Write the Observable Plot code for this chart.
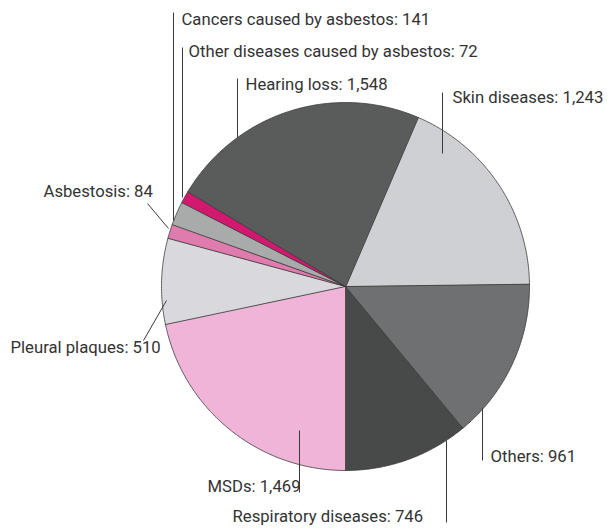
<!DOCTYPE html>
<html><head><meta charset="utf-8">
<script src="https://cdn.jsdelivr.net/npm/d3@7"></script>
<script src="https://cdn.jsdelivr.net/npm/@observablehq/plot@0.6"></script>
<style>body{margin:0;background:#fff}</style>
</head><body><div id="chart"></div>
<script>
// Data (clockwise order as drawn)
const categories = ["Skin diseases", "Others", "Respiratory diseases", "MSDs", "Pleural plaques", "Asbestosis", "Cancers caused by asbestos", "Other diseases caused by asbestos", "Hearing loss"];
const values = [1243, 961, 746, 1469, 510, 84, 141, 72, 1548];
const labelText = ["Skin diseases: 1,243", "Others: 961", "Respiratory diseases: 746", "MSDs: 1,469", "Pleural plaques: 510", "Asbestosis: 84", "Cancers caused by asbestos: 141", "Other diseases caused by asbestos: 72", "Hearing loss: 1,548"];

// Styles
const colors = ["#cfd0d3", "#6f7071", "#484949", "#efb4d7", "#d9d9dd", "#e07bae", "#a9abaa", "#d3186f", "#5a5c5b"];

// Layout
const W = 609, H = 531;
const cx = 345, cy = 286, R = 184;
// label anchor (text start, baseline) and leader line ends
const labelLayout = [
  {x: 452, y: 103, l: [442, 92, 442, 153]},
  {x: 490, y: 462, l: [482, 408, 482, 460]},
  {x: 232, y: 522, l: [446, 440, 446, 522]},
  {x: 207, y: 492, l: [299, 430, 299, 492]},
  {x: 10, y: 353, l: [143, 340, 166, 300]},
  {x: 43, y: 197, l: [147, 203, 168, 228]},
  {x: 181, y: 25, l: [173, 12, 173, 220]},
  {x: 188, y: 57, l: [182, 47, 182, 197]},
  {x: 245, y: 90, l: [237, 78, 237, 137]}
];

const total = d3.sum(values);
const firstThree = values[0] + values[1] + values[2];
const start = Math.PI - 2 * Math.PI * firstThree / total;
const arcs = d3.pie().sort(null).value(d => d)
  .startAngle(start).endAngle(start + 2 * Math.PI)(values);

const pts = [];
arcs.forEach((a, i) => {
  const name = categories[i];
  pts.push({name, color: colors[i], x: cx, y: cy});
  const n = Math.max(2, Math.ceil((a.endAngle - a.startAngle) / (Math.PI / 360)));
  for (let k = 0; k <= n; k++) {
    const t = a.startAngle + (a.endAngle - a.startAngle) * k / n;
    pts.push({name, color: colors[i], x: cx + R * Math.sin(t), y: cy - R * Math.cos(t)});
  }
});

const labels = labelText.map((t, i) => ({text: t, x: labelLayout[i].x, y: labelLayout[i].y - 6}));
const leaders = labelLayout.map(d => ({x1: d.l[0], y1: d.l[1], x2: d.l[2], y2: d.l[3]}));

const chart = Plot.plot({
  width: W, height: H,
  margin: 0,
  x: {domain: [0, W], range: [0, W], axis: null},
  y: {domain: [0, H], range: [0, H], axis: null},
  color: {type: "identity"},
  style: {background: "#fff"},
  marks: [
    Plot.line(pts, {x: "x", y: "y", z: "name", fill: "color", stroke: "#3a3a3a", strokeWidth: 0.8, curve: "linear-closed", strokeLinejoin: "round"}),
    Plot.link(leaders, {x1: "x1", y1: "y1", x2: "x2", y2: "y2", stroke: "#3a3a3a", strokeWidth: 1}),
    Plot.text(labels, {x: "x", y: "y", text: "text", textAnchor: "start", fill: "#333", fontSize: 16.7, fontFamily: "Roboto"})
  ]
});
document.getElementById("chart").appendChild(chart);
</script>
</body></html>
